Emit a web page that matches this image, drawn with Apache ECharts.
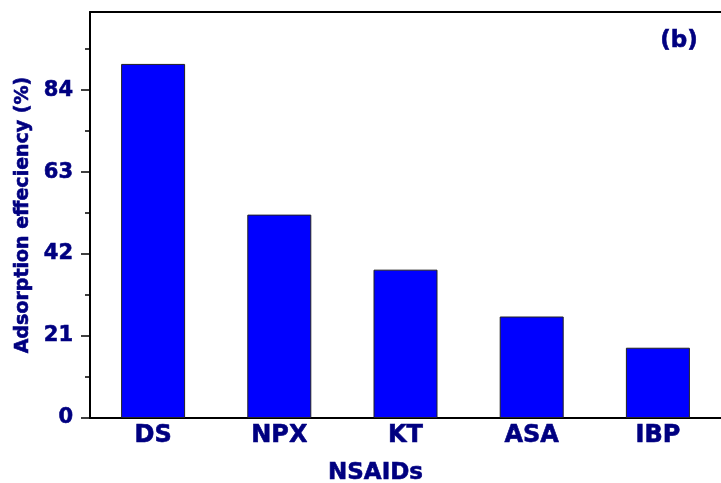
<!DOCTYPE html>
<html>
<head>
<meta charset="utf-8">
<script src="https://cdn.jsdelivr.net/npm/echarts@6/dist/echarts.min.js"></script>
<style>
  html, body { margin: 0; padding: 0; background: #fff; overflow: hidden; }
  #chart { width: 721px; height: 483px; }
</style>
</head>
<body>
<div id="chart"></div>
<script>
// NSAID adsorption efficiency
const categories = ['DS', 'NPX', 'KT', 'ASA', 'IBP'];
const efficiency = [90.7, 52.1, 38.0, 26.0, 18.0];
const yTicks = [0, 21, 42, 63, 84];

const navy = '#000080';
const font = 'DejaVu Sans';
// thin outline in the fill colour to thicken the bold glyphs a little
const heavy = { textBorderColor: navy, textBorderWidth: 0.6 };

const chart = echarts.init(document.getElementById('chart'), null, { renderer: 'canvas' });

chart.setOption({
  animation: false,
  backgroundColor: '#ffffff',
  grid: { left: 90, top: 12, width: 634, height: 406 },
  xAxis: [
    {
      type: 'category',
      data: categories,
      axisLine: { lineStyle: { color: '#000', width: 2 } },
      axisTick: { show: false },
      axisLabel: Object.assign({
        color: navy, fontFamily: font, fontWeight: 'bold', fontSize: 24, margin: 6
      }, heavy)
    },
    {
      // top frame line
      type: 'category',
      position: 'top',
      data: categories,
      axisLine: { show: true, lineStyle: { color: '#000', width: 2 } },
      axisTick: { show: false },
      axisLabel: { show: false }
    }
  ],
  yAxis: {
    type: 'value',
    min: 0, max: 104, interval: 21,
    name: 'Adsorption effeciency (%)',
    nameLocation: 'middle',
    nameGap: 57,
    nameTextStyle: Object.assign({ color: navy, fontFamily: font, fontWeight: 'bold', fontSize: 19 }, heavy),
    axisLine: { show: true, lineStyle: { color: '#000', width: 2 } },
    axisTick: { show: true, length: 9, customValues: yTicks, lineStyle: { color: '#000', width: 1.5 } },
    minorTick: { show: true, splitNumber: 2, length: 5, lineStyle: { color: '#000', width: 1.5 } },
    splitLine: { show: false },
    axisLabel: Object.assign({
      color: navy, fontFamily: font, fontWeight: 'bold', fontSize: 21, margin: 17,
      customValues: yTicks,
      formatter: v => (yTicks.indexOf(v) >= 0 ? String(v) : '')
    }, heavy)
  },
  graphic: [
    {
      type: 'text', x: 375.5, y: 473,
      style: { text: 'NSAIDs', fill: navy, font: 'bold 23px "DejaVu Sans"', textAlign: 'center', textVerticalAlign: 'middle', stroke: navy, lineWidth: 0.6 }
    },
    {
      type: 'text', x: 679, y: 41,
      style: { text: '(b)', fill: navy, font: 'bold 23px "DejaVu Sans"', textAlign: 'center', textVerticalAlign: 'middle', stroke: navy, lineWidth: 0.6 }
    }
  ],
  series: [{
    type: 'bar',
    data: efficiency,
    barWidth: 64,
    itemStyle: { color: '#0000ff', borderColor: '#222', borderWidth: 1 }
  }]
});
</script>
</body>
</html>
